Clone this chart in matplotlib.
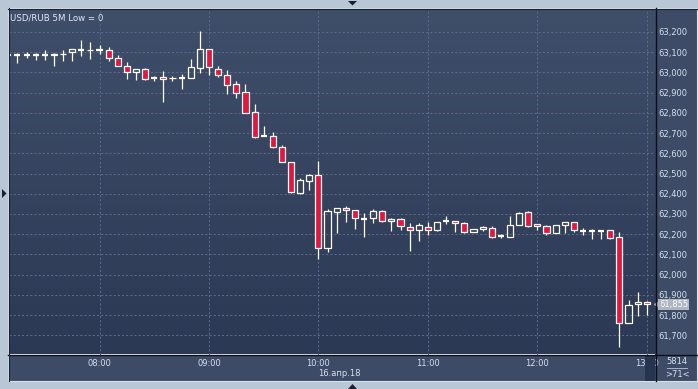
import matplotlib
matplotlib.use("Agg")
import matplotlib.pyplot as plt
import numpy as np
from matplotlib.patches import Rectangle, Polygon
from matplotlib.colors import LinearSegmentedColormap
import matplotlib.transforms as mtransforms

# ---------------- data ----------------
times = ["07:10", "07:15", "07:20", "07:25", "07:30", "07:35", "07:40", "07:45", "07:50", "07:55",
         "08:00", "08:05", "08:10", "08:15", "08:20", "08:25", "08:30", "08:35", "08:40", "08:45",
         "08:50", "08:55", "09:00", "09:05", "09:10", "09:15", "09:20", "09:25", "09:30", "09:35",
         "09:40", "09:45", "09:50", "09:55", "10:00", "10:05", "10:10", "10:15", "10:20", "10:25",
         "10:30", "10:35", "10:40", "10:45", "10:50", "10:55", "11:00", "11:05", "11:10", "11:15",
         "11:20", "11:25", "11:30", "11:35", "11:40", "11:45", "11:50", "11:55", "12:00", "12:05",
         "12:10", "12:15", "12:20", "12:25", "12:30", "12:35", "12:40", "12:45", "12:50", "12:55",
         "13:00"]
opens = [63087, 63087, 63087, 63087, 63087, 63086, 63090, 63102, 63110, 63110,
         63112, 63108, 63072, 63032, 63003, 63015, 62972, 62977, 62970, 62970,
         62970, 63019, 63113, 63014, 62989, 62940, 62905, 62802, 62686, 62683,
         62629, 62558, 62405, 62464, 62495, 62130, 62310, 62331, 62318, 62275,
         62279, 62315, 62264, 62274, 62237, 62219, 62237, 62219, 62267, 62264,
         62254, 62209, 62224, 62232, 62191, 62188, 62244, 62310, 62249, 62239,
         62205, 62244, 62259, 62214, 62214, 62218, 62219, 62185, 61760, 61854,
         61864]
highs = [63090, 63097, 63100, 63097, 63108, 63097, 63108, 63113, 63158, 63150,
         63137, 63127, 63087, 63053, 63015, 63022, 62980, 63008, 62980, 62990,
         63065, 63203, 63113, 63030, 63009, 62956, 62940, 62843, 62736, 62703,
         62640, 62558, 62476, 62500, 62563, 62323, 62331, 62340, 62318, 62307,
         62326, 62318, 62282, 62280, 62254, 62254, 62260, 62260, 62290, 62267,
         62260, 62224, 62241, 62242, 62201, 62290, 62310, 62315, 62249, 62244,
         62244, 62259, 62259, 62229, 62224, 62218, 62219, 62211, 61875, 61913,
         61869]
lows = [63083, 63045, 63070, 63063, 63060, 63030, 63055, 63055, 63080, 63067,
        63088, 63055, 63032, 62967, 62963, 62962, 62955, 62855, 62958, 62917,
        62970, 62998, 62986, 62978, 62892, 62874, 62800, 62677, 62684, 62624,
        62555, 62405, 62400, 62418, 62077, 62114, 62208, 62262, 62228, 62188,
        62257, 62260, 62214, 62223, 62116, 62165, 62195, 62214, 62251, 62213,
        62205, 62209, 62214, 62180, 62183, 62185, 62244, 62234, 62223, 62198,
        62205, 62208, 62213, 62195, 62178, 62178, 62178, 61645, 61760, 61798,
        61803]
closes = [63087, 63087, 63087, 63087, 63087, 63088, 63092, 63113, 63110, 63111,
          63112, 63070, 63032, 63002, 63015, 62965, 62972, 62967, 62972, 62970,
          63024, 63113, 63024, 62989, 62935, 62899, 62800, 62682, 62686, 62629,
          62555, 62410, 62466, 62491, 62130, 62314, 62331, 62318, 62279, 62275,
          62313, 62264, 62274, 62241, 62219, 62244, 62219, 62259, 62267, 62256,
          62211, 62224, 62234, 62185, 62191, 62244, 62305, 62242, 62239, 62205,
          62244, 62259, 62219, 62214, 62214, 62218, 62181, 61760, 61851, 61864,
          61855]
y_ticks = [61700, 61800, 61900, 62000, 62100, 62200, 62300, 62400,
           62500, 62600, 62700, 62800, 62900, 63000, 63100, 63200]
x_tick_labels = ["08:00", "09:00", "10:00", "11:00", "12:00", "13:00"]
title = "USD/RUB 5M Low = 0"
date_label = "16.апр.18"
volume_label = "5814"
zoom_label = ">71<"

# ---------------- figure ----------------
W, H = 698, 389
fig = plt.figure(figsize=(W / 100, H / 100), dpi=100)
fig.patch.set_facecolor("#b9c6d6")


def fr(x0, y0, x1, y1):
    return [x0 / W, 1 - y1 / H, (x1 - x0) / W, (y1 - y0) / H]


bg = fig.add_axes([0, 0, 1, 1], zorder=0)
bg.set_xlim(0, W)
bg.set_ylim(H, 0)
bg.axis("off")
bg.add_patch(Rectangle((8, 8), 689, 373, fc="#3d4b66", ec="#d8e0ea", lw=0.8))

ax = fig.add_axes(fr(8.5, 8.5, 655, 354.5), zorder=1)
for s in ax.spines.values():
    s.set_visible(False)

grad = np.linspace(0, 1, 256).reshape(-1, 1)
cmap = LinearSegmentedColormap.from_list("g", ["#3f4e69", "#2c3954"])
ax.imshow(grad, cmap=cmap, extent=[0, 1, 0, 1], transform=ax.transAxes,
          aspect="auto", zorder=0)

t = np.array([int(s[:2]) * 60 + int(s[3:]) for s in times], dtype=float)
o = np.array(opens, float)
h = np.array(highs, float)
l = np.array(lows, float)
c = np.array(closes, float)

blo = np.minimum(o, c)
bhi = np.maximum(o, c)
up = c > o
down = c < o
flat = c == o
bw = 3.35

ax.vlines(t, bhi, h, color="white", lw=0.9, zorder=3)
ax.vlines(t, l, blo, color="white", lw=0.9, zorder=3)
ax.bar(t[down], (bhi - blo)[down], bottom=blo[down], width=bw,
       color="#e3173e", edgecolor="white", lw=0.9, zorder=4)
ax.bar(t[up], (bhi - blo)[up], bottom=blo[up], width=bw,
       facecolor="none", edgecolor="white", lw=0.9, zorder=4)
ax.hlines(c[flat], t[flat] - bw / 2, t[flat] + bw / 2, color="white", lw=1.6, zorder=4)

ax.set_xlim(430.1, 784.5)
ax.set_ylim(61606, 63315)

xt = [int(s[:2]) * 60 + int(s[3:]) for s in x_tick_labels]
ax.set_xticks(xt)
ax.set_xticklabels(x_tick_labels)
ax.set_yticks(y_ticks)
ax.set_yticklabels([f"{v:,}" for v in y_ticks])
ax.yaxis.tick_right()
ax.tick_params(axis="x", length=0, pad=3, labelsize=6, labelcolor="#d6e1ef")
ax.tick_params(axis="y", length=0, pad=2.2, labelsize=6, labelcolor="#d6e1ef")
ax.set_axisbelow(True)
ax.grid(True, color="#5c6a89", linestyle=(0, (2, 2)), linewidth=0.75)

ax.text(0.003, 0.985, title, transform=ax.transAxes, ha="left", va="top",
        fontsize=6.2, color="#e2eaf4", zorder=6)

# last price tag
trans = mtransforms.blended_transform_factory(ax.transAxes, ax.transData)
ax.text(1.0065, c[-1], f"{int(c[-1]):,}", transform=trans, ha="left", va="center",
        fontsize=6, color="#ffffff", clip_on=False, zorder=8,
        bbox=dict(boxstyle="square,pad=0.12", fc="#aeb6c2", ec="none"))
ax.plot([1.003], [c[-1]], marker="<", ms=4, color="#aeb6c2", transform=trans,
        clip_on=False, zorder=8)

# ---------------- overlay ----------------
fg = fig.add_axes([0, 0, 1, 1], zorder=5)
fg.set_xlim(0, W)
fg.set_ylim(H, 0)
fg.axis("off")
fg.patch.set_visible(False)
fg.add_patch(Rectangle((645, 355), 10, 26, fc="#27344d", ec="none"))
fg.plot([655.5, 655.5], [8, 381], color="#0c0f15", lw=1.0)
fg.plot([8, 697], [354.5, 354.5], color="#0c0f15", lw=1.0)
fg.plot([8.5, 8.5], [8, 381], color="#1a2130", lw=0.8)
fg.plot([8, 697], [8.5, 8.5], color="#1a2130", lw=0.8)
fg.text(318, 374, date_label, ha="left", va="center", fontsize=6, color="#d6e1ef")
fg.text(677, 361, volume_label, ha="center", va="center", fontsize=6, color="#d6e1ef")
fg.plot([667, 687], [368, 368], color="#aab4c4", lw=0.7)
fg.text(677, 374.5, zoom_label, ha="center", va="center", fontsize=6, color="#d6e1ef")
fg.add_patch(Polygon([[348, 1], [357, 1], [352.5, 5.5]], closed=True, fc="#1a2030"))
fg.add_patch(Polygon([[348, 389], [357, 389], [352.5, 384]], closed=True, fc="#1a2030"))
fg.add_patch(Polygon([[2, 189], [2, 198], [6.5, 193.5]], closed=True, fc="#1a2030"))

fig.savefig("out.png", dpi=100, facecolor=fig.get_facecolor())
